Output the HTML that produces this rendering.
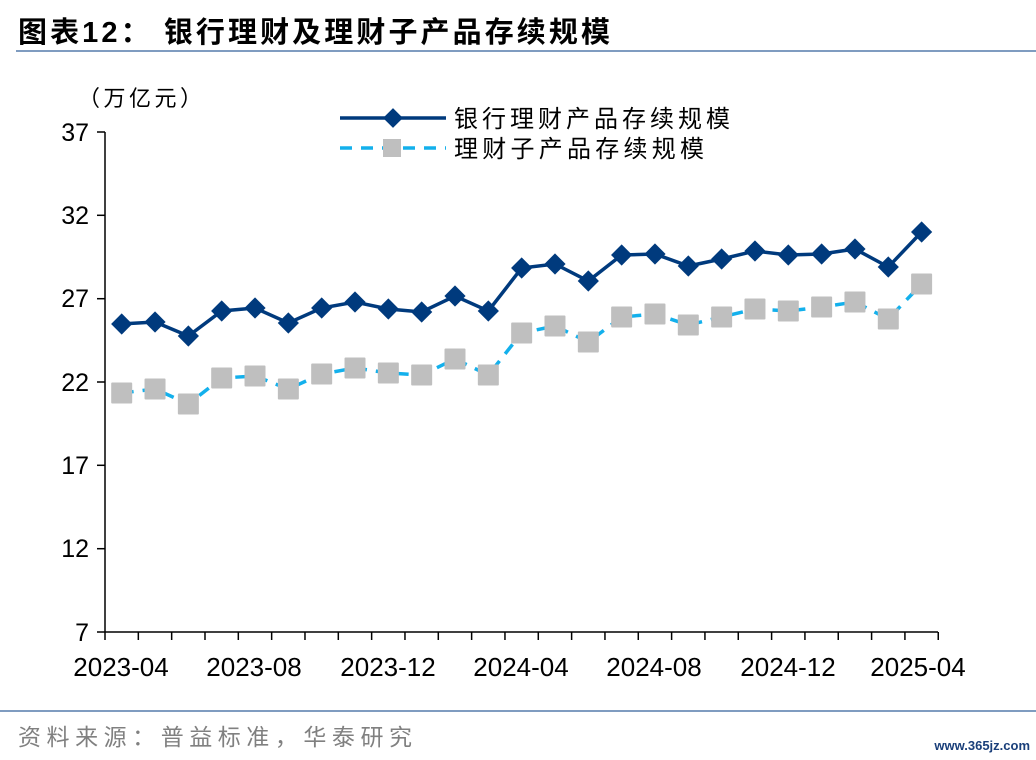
<!DOCTYPE html>
<html><head><meta charset="utf-8"><style>
body{margin:0;background:#fff;}
svg{display:block;font-family:"Liberation Sans","Noto Sans CJK SC",sans-serif;}
</style></head><body>
<svg id="s" width="1036" height="760" xmlns="http://www.w3.org/2000/svg">
<rect width="1036" height="760" fill="#fff"/>
<text x="18" y="42" font-size="29" font-weight="bold" fill="#000" textLength="592" lengthAdjust="spacing">图表12：  银行理财及理财子产品存续规模</text>
<line x1="16" y1="51" x2="1036" y2="51" stroke="#7f9cc0" stroke-width="2"/>
<text x="78" y="106" font-size="22" fill="#000" textLength="124" lengthAdjust="spacing">（万亿元）</text>
<g font-size="25" fill="#000" text-anchor="end">
<text x="89" y="141">37</text><text x="89" y="224">32</text><text x="89" y="307">27</text>
<text x="89" y="391">22</text><text x="89" y="474">17</text><text x="89" y="557">12</text><text x="89" y="641">7</text>
</g>
<g stroke="#000" stroke-width="1.5">
<line x1="105" y1="132" x2="105" y2="632"/>
<line x1="105" y1="632" x2="938" y2="632"/>
<line x1="97" y1="132" x2="105" y2="132"/><line x1="97" y1="215.3" x2="105" y2="215.3"/>
<line x1="97" y1="298.7" x2="105" y2="298.7"/><line x1="97" y1="382" x2="105" y2="382"/>
<line x1="97" y1="465.3" x2="105" y2="465.3"/><line x1="97" y1="548.7" x2="105" y2="548.7"/>
<line x1="97" y1="632" x2="105" y2="632"/>
</g>
<g id="xt" stroke="#000" stroke-width="1.5"></g>
<g font-size="26" fill="#000" text-anchor="middle">
<text x="121" y="676">2023-04</text><text x="254" y="676">2023-08</text><text x="388" y="676">2023-12</text>
<text x="521" y="676">2024-04</text><text x="654" y="676">2024-08</text><text x="788" y="676">2024-12</text><text x="918" y="676">2025-04</text>
</g>
<g id="d"></g>
<line x1="340" y1="118" x2="446" y2="118" stroke="#003a7d" stroke-width="3.5"/>
<rect x="386" y="111" width="14" height="14" fill="#003a7d" transform="rotate(45 393 118)"/>
<line x1="340" y1="148" x2="446" y2="148" stroke="#13b0ec" stroke-width="3.5" stroke-dasharray="12,9"/>
<rect x="383" y="139" width="18" height="18" fill="#bfbfbf"/>
<text x="454" y="127" font-size="24" fill="#000" textLength="276" lengthAdjust="spacing">银行理财产品存续规模</text>
<text x="454" y="157" font-size="24" fill="#000" textLength="250" lengthAdjust="spacing">理财子产品存续规模</text>
<line x1="0" y1="711" x2="1036" y2="711" stroke="#7f9cc0" stroke-width="2"/>
<text x="18" y="745" font-size="23" fill="#808080" textLength="394" lengthAdjust="spacing">资料来源：普益标准，华泰研究</text>
<text x="1030" y="750" font-size="13" fill="#1a3f7a" text-anchor="end" font-weight="bold">www.365jz.com</text>
</svg>
<script>
var a=[324,322,336,311,308,323,308,302,309,312,296,311,268,264,281,255,254,266,259,251,255,254,249,267,232];
var b=[393,389,404,378,376,389,374,368,373,375,359,375,333,326,342,317,314,325,317,309,311,307,302,319,284];
var h="",t="";
for(var k=0;k<=25;k++){var x=105+k*33.33;t+='<line x1="'+x+'" y1="632" x2="'+x+'" y2="640"/>';}
document.getElementById('xt').innerHTML=t;
var pa="",pb="";
for(var i=0;i<25;i++){var x=121.7+i*33.33;pa+=(i?"L":"M")+x+" "+a[i];pb+=(i?"L":"M")+x+" "+b[i];}
h+='<path d="'+pb+'" fill="none" stroke="#13b0ec" stroke-width="3.5" stroke-dasharray="12,9"/>';
for(var i=0;i<25;i++){var x=121.7+i*33.33;h+='<rect x="'+(x-10.5)+'" y="'+(b[i]-10.5)+'" width="21" height="21" fill="#bfbfbf" rx="1"/>';}
h+='<path d="'+pa+'" fill="none" stroke="#003a7d" stroke-width="3.5"/>';
for(var i=0;i<25;i++){var x=121.7+i*33.33;h+='<rect x="'+(x-7.5)+'" y="'+(a[i]-7.5)+'" width="15" height="15" fill="#003a7d" transform="rotate(45 '+x+' '+a[i]+')"/>';}
document.getElementById('d').innerHTML=h;
</script>
</body></html>
